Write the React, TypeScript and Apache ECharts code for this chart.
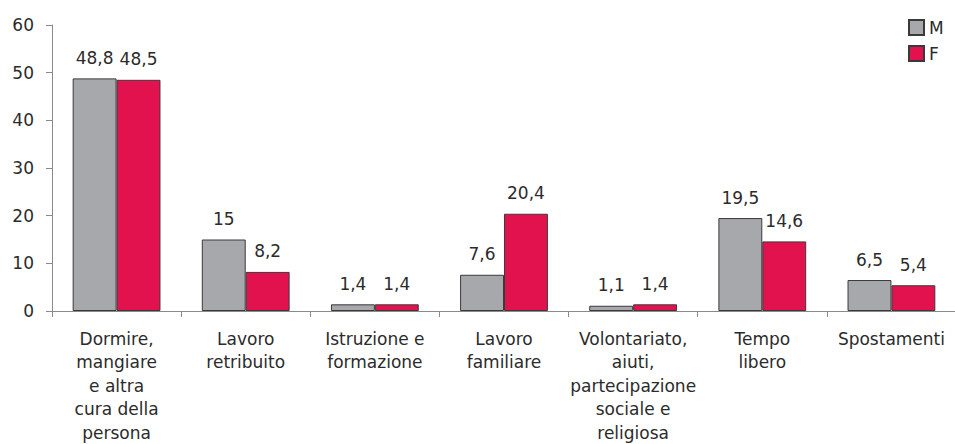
import React, { useEffect, useRef } from "react";
import * as echarts from "echarts";

const categories = [
  "Dormire,\nmangiare\ne altra\ncura della\npersona",
  "Lavoro\nretribuito",
  "Istruzione e\nformazione",
  "Lavoro\nfamiliare",
  "Volontariato,\naiuti,\npartecipazione\nsociale e\nreligiosa",
  "Tempo\nlibero",
  "Spostamenti",
];
const seriesNames = ["M", "F"];
const valuesM = [48.8, 15, 1.4, 7.6, 1.1, 19.5, 6.5];
const valuesF = [48.5, 8.2, 1.4, 20.4, 1.4, 14.6, 5.4];
const yMin = 0;
const yMax = 60;
const yInterval = 10;

const FONT = "DejaVu Sans";
const TEXT = "#2b2b2b";
const AXIS = "#8a8a8a";

export default function App() {
  const ref = useRef<HTMLDivElement>(null);
  useEffect(() => {
    if (!ref.current) return;
    const chart = echarts.init(ref.current, undefined, { renderer: "svg" });
    const fmt = (p: any) => String(p.value).replace(".", ",");
    const mkSeries = (name: string, data: number[], color: string) => ({
      name,
      type: "bar",
      data,
      barGap: "0%",
      barCategoryGap: "32%",
      itemStyle: { color, borderColor: "#3a3a3a", borderWidth: 1 },
      label: {
        show: true,
        position: "top",
        distance: 12,
        formatter: fmt,
        color: TEXT,
        fontFamily: FONT,
        fontSize: 17,
      },
    });
    chart.setOption({
      animation: false,
      backgroundColor: "#ffffff",
      textStyle: { fontFamily: FONT },
      grid: {
        left: 52,
        right: -1,
        top: 25,
        bottom: 133,
        containLabel: false,
        outerBoundsMode: "none",
      },
      legend: {
        data: seriesNames,
        orient: "vertical",
        left: 908,
        top: 19,
        itemWidth: 15,
        itemHeight: 15,
        itemGap: 9,
        icon: "rect",
        textStyle: { color: TEXT, fontFamily: FONT, fontSize: 17, padding: [0, 0, 0, 0] },
        padding: 0,
      },
      xAxis: {
        type: "category",
        data: categories,
        axisLine: { lineStyle: { color: AXIS, width: 1 } },
        axisTick: { show: true, length: 6, lineStyle: { color: AXIS } },
        axisLabel: {
          interval: 0,
          margin: 16,
          color: TEXT,
          fontFamily: FONT,
          fontSize: 17,
          lineHeight: 23.5,
          align: "center",
          hideOverlap: false,
        },
      },
      yAxis: {
        type: "value",
        min: yMin,
        max: yMax,
        interval: yInterval,
        axisLine: { show: true, lineStyle: { color: AXIS, width: 1 } },
        axisTick: { show: true, length: 6, lineStyle: { color: AXIS } },
        splitLine: { show: false },
        axisLabel: {
          margin: 18,
          color: TEXT,
          fontFamily: FONT,
          fontSize: 17,
        },
      },
      series: [
        mkSeries(seriesNames[0], valuesM, "#a7a8ab"),
        mkSeries(seriesNames[1], valuesF, "#e2124f"),
      ],
    });
    return () => chart.dispose();
  }, []);
  return (
    <div
      ref={ref}
      style={{ position: "fixed", left: 0, top: 0, width: 955, height: 444, background: "#fff" }}
    />
  );
}
